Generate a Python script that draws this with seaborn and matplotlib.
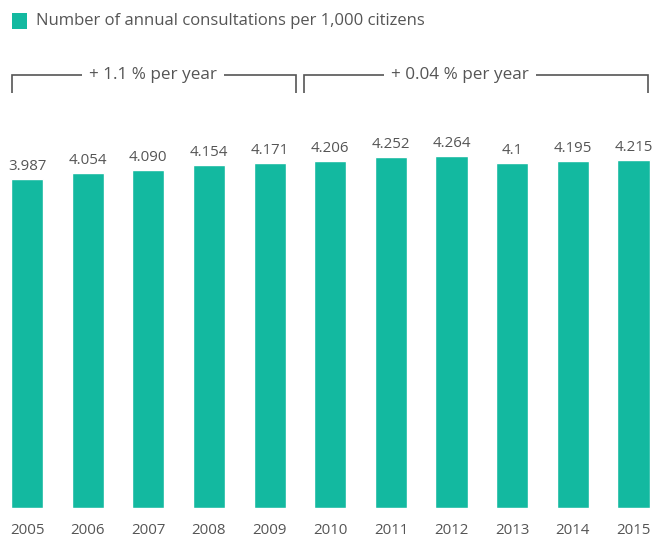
import matplotlib
matplotlib.use("Agg")
import matplotlib.pyplot as plt
import matplotlib.patches as mpatches
import seaborn as sns
import pandas as pd

years = ["2005", "2006", "2007", "2008", "2009", "2010", "2011", "2012", "2013", "2014", "2015"]
values = [3.987, 4.054, 4.090, 4.154, 4.171, 4.206, 4.252, 4.264, 4.18, 4.195, 4.215]
labels = ["3.987", "4.054", "4.090", "4.154", "4.171", "4.206", "4.252", "4.264", "4.1", "4.195", "4.215"]
legend_label = "Number of annual consultations per 1,000 citizens"
bracket_texts = ["+ 1.1 % per year", "+ 0.04 % per year"]

sns.set_theme(style="white")
plt.rcParams['font.family'] = ['Open Sans', 'DejaVu Sans']

W, H = 653, 541
fig = plt.figure(figsize=(W / 100, H / 100), dpi=100)
base_px = 508
ax = fig.add_axes([0, (H - base_px) / H, 1, base_px / H])

color = "#13b9a0"
text_color = "#555555"
df = pd.DataFrame({"year": years, "value": values})
sns.barplot(data=df, x="year", y="value", color=color, width=0.53, saturation=1, ax=ax)

px_per_unit = 82.6
ax.set_ylim(0, base_px / px_per_unit)
ax.set_xlim(-27 / 60.65, 10 + (W - 633.5) / 60.65)

for i, (v, lab) in enumerate(zip(values, labels)):
    ax.text(i, v + 9 / px_per_unit, lab, ha="center", va="baseline", fontsize=10.8, color=text_color)

ax.set_xlabel("")
ax.set_ylabel("")
ax.set_yticks([])
ax.tick_params(axis="x", length=0, pad=11, labelsize=10.8, labelcolor=text_color)
for s in ax.spines.values():
    s.set_visible(False)

def ydata(py):
    return (base_px - py) / px_per_unit

def xdata(px):
    return (px - 27) / 60.65

# brackets
brackets = [(12, 296, 153, bracket_texts[0]), (304, 648, 460, bracket_texts[1])]
for x0, x1, xc, txt in brackets:
    yh, yv = ydata(75), ydata(93)
    ax.plot([xdata(x0), xdata(x0), xdata(x1), xdata(x1)], [yv, yh, yh, yv],
            color=text_color, lw=1.2, solid_capstyle="butt", solid_joinstyle="miter", clip_on=False)
    ax.text(xdata(xc), yh, txt, ha="center", va="center", fontsize=12.3, color=text_color,
            bbox=dict(facecolor="white", edgecolor="none", pad=5))

# legend
fig.patches.append(mpatches.Rectangle((12 / W, 1 - 29 / H), 15 / W, 16 / H, transform=fig.transFigure,
                                      facecolor=color, edgecolor="none"))
fig.text(36 / W, 1 - 21 / H, legend_label, ha="left", va="center", fontsize=12, color=text_color)

fig.savefig("out.png", dpi=100)
